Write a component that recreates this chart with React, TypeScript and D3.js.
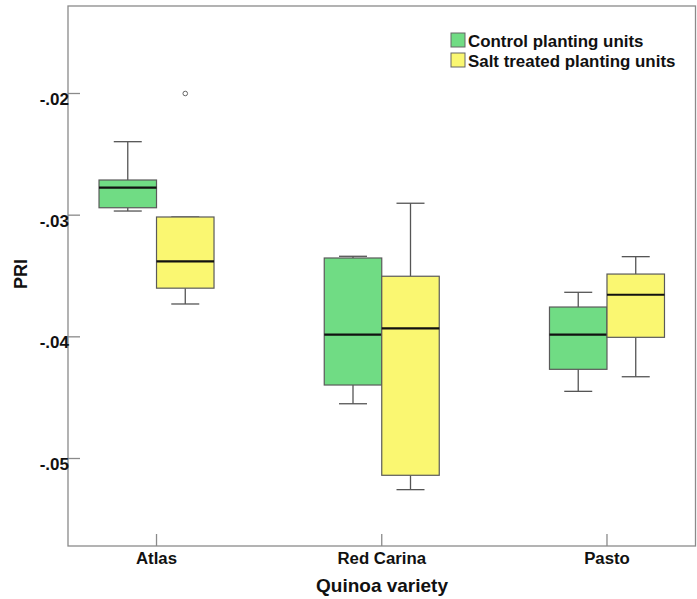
import React from "react";
import * as d3 from "d3";

const categories = ["Atlas", "Red Carina", "Pasto"];
const groups = ["Control planting units", "Salt treated planting units"];
const groupColors = ["#70DC84", "#FAF771"];

// [whiskerLow, Q1, median, Q3, whiskerHigh] per category
const controlStats = [
  [-0.02966, -0.02939, -0.02774, -0.02711, -0.02396],
  [-0.0455, -0.04396, -0.03982, -0.03352, -0.03338],
  [-0.04448, -0.04267, -0.03982, -0.03755, -0.03634],
];
const saltStats = [
  [-0.0373, -0.036, -0.03379, -0.03015, -0.03015],
  [-0.05256, -0.05138, -0.0393, -0.03502, -0.02902],
  [-0.04328, -0.04004, -0.03654, -0.03484, -0.03341],
];
const saltOutliers = [[-0.0200], [], []];
const controlOutliers = [[], [], []];

const yTicks = [-0.02, -0.03, -0.04, -0.05];
const yTickLabels = ["-.02", "-.03", "-.04", "-.05"];

const W = 697;
const H = 599;
const left = 68;
const right = 695.5;
const top = 6;
const bottom = 546;

export default function App() {
  const y = d3
    .scaleLinear()
    .domain([-0.02, -0.05])
    .range([93.5, 458.5]);
  const x = d3
    .scalePoint<string>()
    .domain(categories)
    .range([left, right])
    .padding(0.393);
  const boxW = 57.5;
  const capW = 28;
  const font = "Arial, 'Liberation Sans', sans-serif";

  const series = [
    { stats: controlStats, outliers: controlOutliers, color: groupColors[0], dx: -boxW },
    { stats: saltStats, outliers: saltOutliers, color: groupColors[1], dx: 0 },
  ];

  return (
    <svg
      width={W}
      height={H}
      style={{ position: "absolute", left: 0, top: 0, background: "#fff" }}
    >
      <rect x={0} y={0} width={W} height={H} fill="#fff" />
      {/* frame */}
      <rect
        x={left}
        y={top}
        width={right - left}
        height={bottom - top}
        fill="none"
        stroke="#8a8a8a"
        strokeWidth={1.3}
      />
      {/* y ticks */}
      {yTicks.map((t, i) => (
        <g key={i}>
          <line x1={left} x2={left + 12} y1={y(t)} y2={y(t)} stroke="#8a8a8a" strokeWidth={1.3} />
          <text
            x={left + 1}
            y={y(t) + 11.5}
            textAnchor="end"
            fontFamily={font}
            fontWeight="bold"
            fontSize={17}
            fill="#111"
          >
            {yTickLabels[i]}
          </text>
        </g>
      ))}
      {/* x ticks */}
      {categories.map((c) => (
        <g key={c}>
          <line x1={x(c)} x2={x(c)} y1={bottom} y2={bottom - 12} stroke="#8a8a8a" strokeWidth={1.3} />
          <text
            x={x(c)}
            y={564}
            textAnchor="middle"
            fontFamily={font}
            fontWeight="bold"
            fontSize={16.8}
            fill="#111"
          >
            {c}
          </text>
        </g>
      ))}
      {/* boxes */}
      {series.map((s, si) =>
        categories.map((c, ci) => {
          const [lo, q1, med, q3, hi] = s.stats[ci];
          const x0 = (x(c) as number) + s.dx;
          const cx = x0 + boxW / 2;
          return (
            <g key={si + "-" + c}>
              <line x1={cx} x2={cx} y1={y(hi)} y2={y(q3)} stroke="#555" strokeWidth={1.3} />
              <line x1={cx} x2={cx} y1={y(q1)} y2={y(lo)} stroke="#555" strokeWidth={1.3} />
              <line x1={cx - capW / 2} x2={cx + capW / 2} y1={y(hi)} y2={y(hi)} stroke="#555" strokeWidth={1.3} />
              <line x1={cx - capW / 2} x2={cx + capW / 2} y1={y(lo)} y2={y(lo)} stroke="#555" strokeWidth={1.3} />
              <rect
                x={x0}
                y={y(q3)}
                width={boxW}
                height={y(q1) - y(q3)}
                fill={s.color}
                stroke="#5a5a5a"
                strokeWidth={1.2}
              />
              <line x1={x0} x2={x0 + boxW} y1={y(med)} y2={y(med)} stroke="#111" strokeWidth={2.2} />
              {s.outliers[ci].map((o, oi) => (
                <circle key={oi} cx={cx} cy={y(o)} r={2.3} fill="none" stroke="#666" strokeWidth={1} />
              ))}
            </g>
          );
        })
      )}
      {/* legend */}
      {groups.map((g, i) => (
        <g key={g}>
          <rect
            x={451}
            y={33 + i * 20}
            width={14}
            height={14}
            fill={groupColors[i]}
            stroke="#666"
            strokeWidth={1}
          />
          <text
            x={468}
            y={46.5 + i * 20}
            fontFamily={font}
            fontWeight="bold"
            fontSize={16.9}
            fill="#111"
          >
            {g}
          </text>
        </g>
      ))}
      {/* axis titles */}
      <text
        x={382}
        y={592}
        textAnchor="middle"
        fontFamily={font}
        fontWeight="bold"
        fontSize={19}
        fill="#111"
      >
        Quinoa variety
      </text>
      <text
        transform={`translate(27,274) rotate(-90)`}
        textAnchor="middle"
        fontFamily={font}
        fontWeight="bold"
        fontSize={18}
        fill="#111"
      >
        PRI
      </text>
    </svg>
  );
}
